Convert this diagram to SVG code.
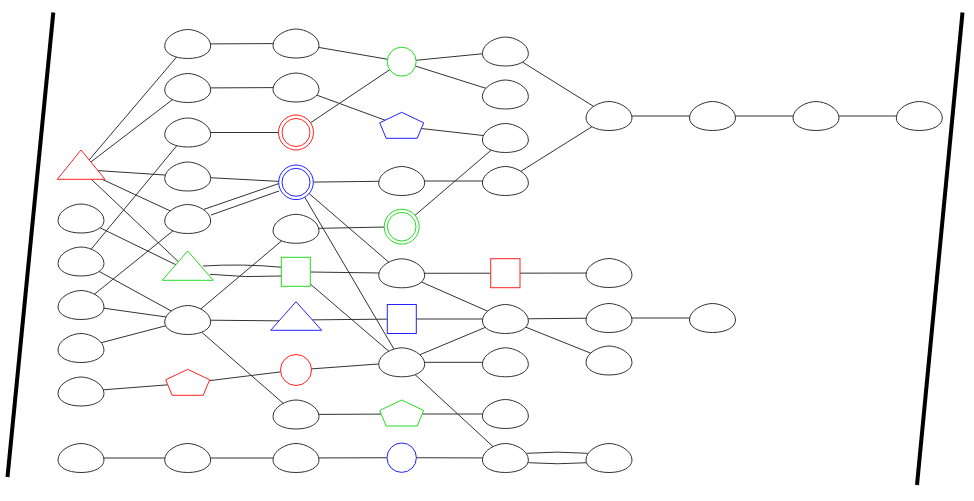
<svg xmlns="http://www.w3.org/2000/svg" xmlns:xlink="http://www.w3.org/1999/xlink" width="974" height="501" viewBox="0 0 974 501">
<style>
.e{fill:none;stroke:#333;stroke-width:1}
.n{fill:#fff;stroke:#333;stroke-width:1}
.r{fill:#fff;stroke:#f22;stroke-width:1}
.g{fill:#fff;stroke:#2d2;stroke-width:1}
.b{fill:#fff;stroke:#22f;stroke-width:1}
.rn{fill:none;stroke:#f22;stroke-width:1}
.gn{fill:none;stroke:#2d2;stroke-width:1}
.bn{fill:none;stroke:#22f;stroke-width:1}
.border{fill:none;stroke:#000;stroke-width:4}
</style>
<defs>
<path id="egg" d="M-23,2 C-23,-8 -9,-14.5 0,-14.5 C9,-14.5 23,-8 23,2 C23,9 14,14.5 0,14.5 C-14,14.5 -23,9 -23,2 Z"/>
<polygon id="pent" points="0,-14 22,-3.5 15.5,12 -15.5,12 -22,-3.5"/>
</defs>
<rect width="974" height="501" fill="#fff"/>
<g id="frame">
<line class="border" x1="53.3" y1="12.5" x2="7.5" y2="477"/>
<line class="border" x1="962.5" y1="12.5" x2="917" y2="485"/>
</g>
<g id="edges">
<line class="e" x1="81" y1="169.5" x2="187.7" y2="44"/>
<line class="e" x1="81" y1="169.5" x2="187.7" y2="88"/>
<line class="e" x1="81" y1="169.5" x2="187.7" y2="176.5"/>
<line class="e" x1="81" y1="169.5" x2="187.7" y2="219"/>
<line class="e" x1="81" y1="169.5" x2="187.7" y2="270.5"/>
<line class="e" x1="81" y1="218.5" x2="187.7" y2="270.5"/>
<line class="e" x1="81" y1="261.5" x2="187.7" y2="132.5"/>
<line class="e" x1="81" y1="261.5" x2="187.7" y2="320"/>
<line class="e" x1="81" y1="305" x2="187.7" y2="219"/>
<line class="e" x1="81" y1="305" x2="187.7" y2="320"/>
<line class="e" x1="81" y1="348" x2="187.7" y2="320"/>
<line class="e" x1="81" y1="391.5" x2="187.7" y2="383.3"/>
<line class="e" x1="81" y1="458" x2="187.7" y2="458"/>
<line class="e" x1="187.7" y1="44" x2="296" y2="43.5"/>
<line class="e" x1="187.7" y1="88" x2="296" y2="87.5"/>
<line class="e" x1="187.7" y1="132.5" x2="296" y2="132.5"/>
<line class="e" x1="187.7" y1="176.5" x2="296" y2="182.3"/>
<path class="e" d="M204,209.3 L279,183.5"/>
<path class="e" d="M211,215 L279,191"/>
<path class="e" d="M203,266 Q242,263.5 282,267.3"/>
<path class="e" d="M210,274.3 Q245,278 282,276"/>
<line class="e" x1="187.7" y1="320" x2="296" y2="228.8"/>
<line class="e" x1="187.7" y1="320" x2="296" y2="321"/>
<line class="e" x1="187.7" y1="320" x2="296" y2="414.5"/>
<line class="e" x1="187.7" y1="383.3" x2="296" y2="370"/>
<line class="e" x1="187.7" y1="458" x2="296" y2="458"/>
<line class="e" x1="296" y1="43.5" x2="401.7" y2="61.7"/>
<line class="e" x1="296" y1="87.5" x2="401.7" y2="126.3"/>
<line class="e" x1="296" y1="132.5" x2="401.7" y2="61.7"/>
<line class="e" x1="296" y1="182.3" x2="401.7" y2="181"/>
<line class="e" x1="296" y1="182.3" x2="401.7" y2="273.3"/>
<line class="e" x1="296" y1="182.3" x2="401.7" y2="362.3"/>
<line class="e" x1="296" y1="228.8" x2="401.7" y2="226.7"/>
<line class="e" x1="296" y1="271.8" x2="401.7" y2="273.3"/>
<line class="e" x1="296" y1="271.8" x2="401.7" y2="362.3"/>
<line class="e" x1="296" y1="320" x2="401.7" y2="319"/>
<line class="e" x1="296" y1="370" x2="401.7" y2="362.3"/>
<line class="e" x1="296" y1="414.5" x2="401.7" y2="414"/>
<line class="e" x1="296" y1="458" x2="401.7" y2="457.7"/>
<line class="e" x1="401.7" y1="61.7" x2="505.4" y2="51.5"/>
<line class="e" x1="401.7" y1="61.7" x2="505.4" y2="94.5"/>
<line class="e" x1="401.7" y1="126.3" x2="505.4" y2="138"/>
<line class="e" x1="401.7" y1="181" x2="505.4" y2="181"/>
<line class="e" x1="401.7" y1="226.7" x2="505.4" y2="138"/>
<line class="e" x1="401.7" y1="273.3" x2="505.4" y2="273.2"/>
<line class="e" x1="401.7" y1="273.3" x2="505.4" y2="319"/>
<line class="e" x1="401.7" y1="319" x2="505.4" y2="319"/>
<line class="e" x1="401.7" y1="362.3" x2="505.4" y2="319"/>
<line class="e" x1="401.7" y1="362.3" x2="505.4" y2="362.3"/>
<line class="e" x1="401.7" y1="362.3" x2="505.4" y2="458"/>
<line class="e" x1="401.7" y1="414" x2="505.4" y2="414"/>
<line class="e" x1="401.7" y1="457.7" x2="505.4" y2="458"/>
<line class="e" x1="505.4" y1="51.5" x2="609" y2="116"/>
<line class="e" x1="505.4" y1="181" x2="609" y2="116"/>
<line class="e" x1="505.4" y1="273.2" x2="609" y2="273"/>
<line class="e" x1="505.4" y1="319" x2="609" y2="318"/>
<line class="e" x1="505.4" y1="319" x2="609" y2="360.5"/>
<path class="e" d="M526.7,453.3 Q557,451 587.7,453.3"/>
<path class="e" d="M528.3,462.7 Q557,464.8 587.7,462.7"/>
<line class="e" x1="609" y1="116" x2="712.5" y2="116"/>
<line class="e" x1="609" y1="318" x2="712.5" y2="318"/>
<line class="e" x1="712.5" y1="116" x2="816" y2="116"/>
<line class="e" x1="816" y1="116" x2="919.3" y2="116"/>
</g>
<g id="T0"><polygon class="r" points="81,150 105,179.3 57.3,179.3"/></g>
<g id="A1"><use href="#egg" class="n" x="81" y="218.5"/></g>
<g id="A2"><use href="#egg" class="n" x="81" y="261.5"/></g>
<g id="A3"><use href="#egg" class="n" x="81" y="305"/></g>
<g id="A4"><use href="#egg" class="n" x="81" y="348"/></g>
<g id="A5"><use href="#egg" class="n" x="81" y="391.5"/></g>
<g id="A6"><use href="#egg" class="n" x="81" y="458"/></g>
<g id="B1"><use href="#egg" class="n" x="187.7" y="44"/></g>
<g id="B2"><use href="#egg" class="n" x="187.7" y="88"/></g>
<g id="B3"><use href="#egg" class="n" x="187.7" y="132.5"/></g>
<g id="B4"><use href="#egg" class="n" x="187.7" y="176.5"/></g>
<g id="B5"><use href="#egg" class="n" x="187.7" y="219"/></g>
<g id="GT"><polygon class="g" points="187.7,251 213.3,280.3 162.3,280.3"/></g>
<g id="B7"><use href="#egg" class="n" x="187.7" y="320"/></g>
<g id="RP"><use href="#pent" class="r" x="187.7" y="383.3"/></g>
<g id="B9"><use href="#egg" class="n" x="187.7" y="458"/></g>
<g id="C1"><use href="#egg" class="n" x="296" y="43.5"/></g>
<g id="C2"><use href="#egg" class="n" x="296" y="87.5"/></g>
<g id="RDC"><circle class="r" cx="296" cy="132.5" r="17.5"/><circle class="rn" cx="296" cy="132.5" r="14"/></g>
<g id="BDC"><circle class="b" cx="296" cy="182.3" r="17.3"/><circle class="bn" cx="296" cy="182.3" r="14"/></g>
<g id="C5"><use href="#egg" class="n" x="296" y="228.8"/></g>
<g id="GS"><rect class="g" x="281.3" y="257.3" width="29" height="29"/></g>
<g id="BT"><polygon class="b" points="296,301.7 321.7,330.3 270.7,330.3"/></g>
<g id="RC"><circle class="r" cx="296" cy="370" r="15.5"/></g>
<g id="C9"><use href="#egg" class="n" x="296" y="414.5"/></g>
<g id="C10"><use href="#egg" class="n" x="296" y="458"/></g>
<g id="GC"><circle class="g" cx="401.7" cy="61.7" r="14.5"/></g>
<g id="BP"><use href="#pent" class="b" x="401.7" y="126.3"/></g>
<g id="D3"><use href="#egg" class="n" x="401.7" y="181"/></g>
<g id="GDC"><circle class="g" cx="401.7" cy="226.7" r="17.5"/><circle class="gn" cx="401.7" cy="226.7" r="14.3"/></g>
<g id="D5"><use href="#egg" class="n" x="401.7" y="273.3"/></g>
<g id="BS"><rect class="b" x="387.3" y="304.5" width="29" height="29"/></g>
<g id="D7"><use href="#egg" class="n" x="401.7" y="362.3"/></g>
<g id="GP"><use href="#pent" class="g" x="401.7" y="414"/></g>
<g id="BC"><circle class="b" cx="401.7" cy="457.7" r="14.7"/></g>
<g id="E1"><use href="#egg" class="n" x="505.4" y="51.5"/></g>
<g id="E2"><use href="#egg" class="n" x="505.4" y="94.5"/></g>
<g id="E3"><use href="#egg" class="n" x="505.4" y="138"/></g>
<g id="E4"><use href="#egg" class="n" x="505.4" y="181"/></g>
<g id="RS"><rect class="r" x="490.7" y="258.7" width="29.3" height="29"/></g>
<g id="E6"><use href="#egg" class="n" x="505.4" y="319"/></g>
<g id="E7"><use href="#egg" class="n" x="505.4" y="362.3"/></g>
<g id="E8"><use href="#egg" class="n" x="505.4" y="414"/></g>
<g id="E9"><use href="#egg" class="n" x="505.4" y="458"/></g>
<g id="F1"><use href="#egg" class="n" x="609" y="116"/></g>
<g id="F2"><use href="#egg" class="n" x="609" y="273"/></g>
<g id="F3"><use href="#egg" class="n" x="609" y="318"/></g>
<g id="F4"><use href="#egg" class="n" x="609" y="360.5"/></g>
<g id="F5"><use href="#egg" class="n" x="609" y="458"/></g>
<g id="G1"><use href="#egg" class="n" x="712.5" y="116"/></g>
<g id="G2"><use href="#egg" class="n" x="712.5" y="318"/></g>
<g id="H1"><use href="#egg" class="n" x="816" y="116"/></g>
<g id="I1"><use href="#egg" class="n" x="919.3" y="116"/></g>
</svg>
